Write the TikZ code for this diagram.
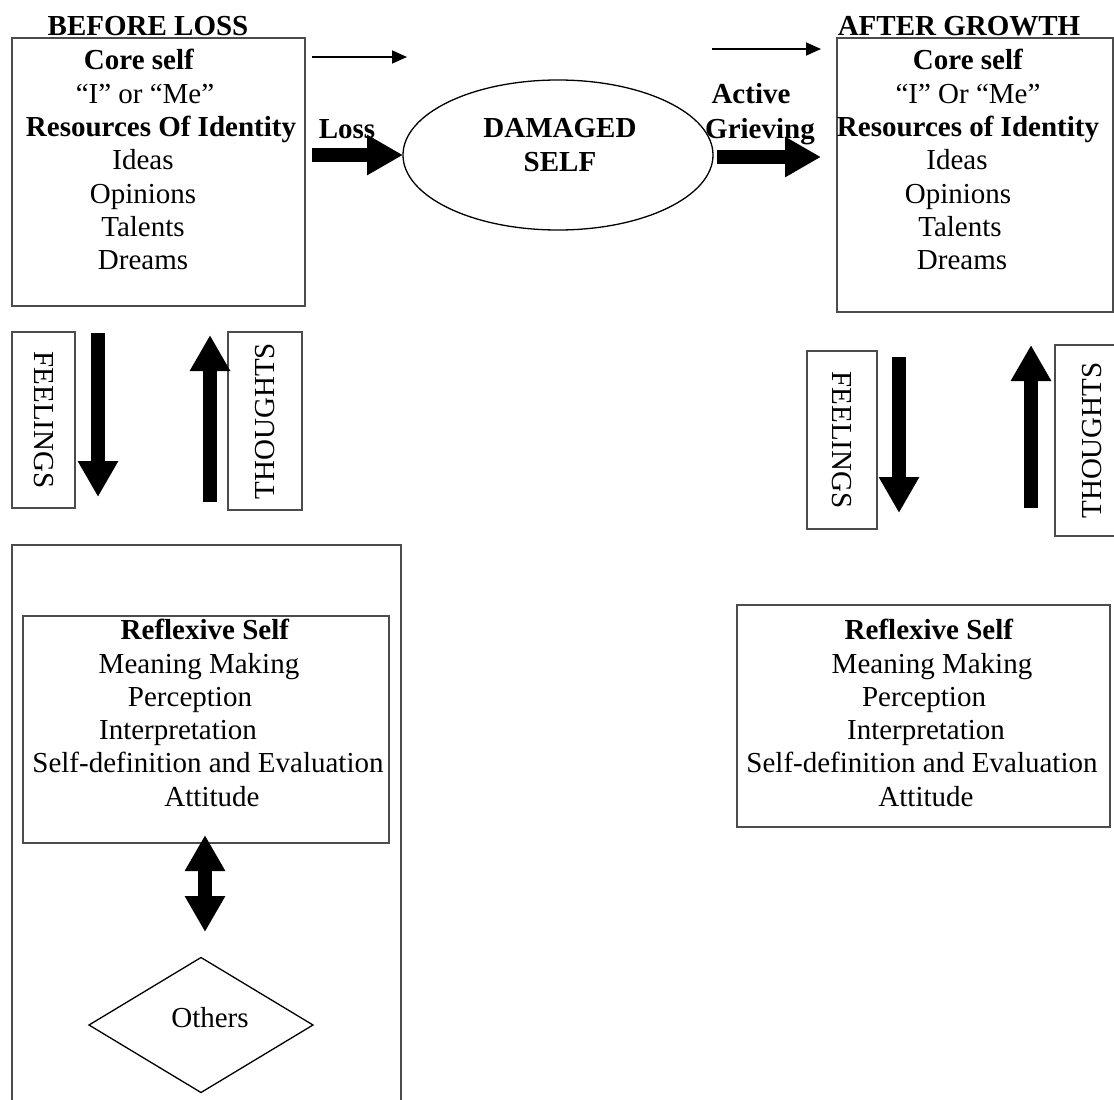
\documentclass[tikz,border=0pt]{standalone}
\usepackage{fontspec}
\setmainfont{Liberation Serif}
\usetikzlibrary{positioning,shapes.geometric,arrows.meta}
\newcommand{\nudge}[2]{\kern#1\relax#2\kern-#1\relax}

\begin{document}
\begin{tikzpicture}[
        x=1pt, y=-1pt,
        every node/.style={font=\fontsize{29}{33.3}\selectfont, inner sep=0pt, outer sep=0pt},
        heading/.style={font=\fontsize{29}{33.3}\selectfont\bfseries},
        box/.style={draw=black!70, line width=1.6pt, rectangle},
        boxtext/.style={align=center, anchor=north},
        fat/.style={line width=14pt, -{Triangle[length=36pt, width=38pt]}},
        fatboth/.style={line width=14pt, {Triangle[length=36pt, width=38pt]}-{Triangle[length=36pt, width=38pt]}},
        slim/.style={line width=1.8pt, -{Triangle[length=15pt, width=13pt]}},
    ]
    \useasboundingbox (0,0) rectangle (1114,1100);
    \clip (0,0) rectangle (1114,1100);

    % core self, before and after
    \node[box, minimum width=293pt, minimum height=268pt] (before) at (158.5,172) {};
    \node[heading, anchor=base] (beforetitle) at (148,35) {BEFORE LOSS};
    \node[boxtext, below=11.5pt of before.north, xshift=-15.5pt] (beforetext)
        {\nudge{-4pt}{\textbf{Core self}}\\\nudge{2pt}{“I” or “Me”}\\\nudge{18pt}{\textbf{Resources Of Identity}}\\Ideas\\Opinions\\Talents\\Dreams};

    \node[box, minimum width=276pt, minimum height=274pt] (after) at (975,175) {};
    \node[heading, anchor=base] (aftertitle) at (959,35) {AFTER GROWTH};
    \node[boxtext, below=11.5pt of after.north, xshift=-9pt] (aftertext)
        {\nudge{2pt}{\textbf{Core self}}\\\nudge{2pt}{“I” Or “Me”}\\\nudge{2pt}{\textbf{Resources of Identity}}\\\nudge{-9pt}{Ideas}\\\nudge{-8pt}{Opinions}\\\nudge{-6pt}{Talents}\\\nudge{-4pt}{Dreams}};

    \node[draw, ellipse, line width=1.3pt, minimum width=310pt, minimum height=150pt] (damaged) at (558,155) {};
    \node[heading, align=center, anchor=north] (damagedtext) at (560,118.5) {DAMAGED\\SELF};

    % arrows between the selves
    \coordinate (lossstart) at (312,155);
    \coordinate (slimAstart) at (312,57);
    \coordinate (slimAend) at (407,57);
    \coordinate (griefstart) at (717,157);
    \coordinate (griefend) at (821,157);
    \coordinate (slimBstart) at (712,49);
    \coordinate (slimBend) at (821,49);
    \draw[fat] (lossstart) -- (damaged.west);
    \draw[fat] (griefstart) -- (griefend);
    \draw[slim] (slimAstart) -- (slimAend);
    \draw[slim] (slimBstart) -- (slimBend);
    \node[heading, anchor=base] (losslabel) at (347,138) {Loss};
    \node[heading, anchor=base] (activelabel) at (751,103) {Active};
    \node[heading, anchor=base] (grieflabel) at (760,138) {Grieving};

    % feelings and thoughts
    \node[box, rotate=-90, minimum width=176pt, minimum height=63pt] (feelA) at (43.5,420) {FEELINGS};
    \node[box, rotate=90, minimum width=178pt, minimum height=74pt] (thoughtA) at (265,421) {THOUGHTS};
    \node[box, rotate=-90, minimum width=178pt, minimum height=70pt] (feelB) at (842,440) {FEELINGS};
    \node[box, rotate=90, minimum width=191pt, minimum height=74pt] (thoughtB) at (1092,440.5) {THOUGHTS};
    \coordinate (feelAtop) at (98,333);
    \coordinate (feelAend) at (98,497);
    \coordinate (thoughtAbot) at (210,502);
    \coordinate (thoughtAend) at (210,335);
    \coordinate (feelBtop) at (899,357);
    \coordinate (feelBend) at (899,513);
    \coordinate (thoughtBbot) at (1031,508);
    \coordinate (thoughtBend) at (1031,345);
    \draw[fat] (feelAtop) -- (feelAend);
    \draw[fat] (thoughtAbot) -- (thoughtAend);
    \draw[fat] (feelBtop) -- (feelBend);
    \draw[fat] (thoughtBbot) -- (thoughtBend);

    % reflexive self
    \node[box, minimum width=389pt, minimum height=575pt] (outer) at (206.5,832.5) {};
    \node[box, minimum width=366pt, minimum height=227pt] (reflexA) at (206,729.5) {};
    \node[boxtext, below=3.3pt of reflexA.north, xshift=2pt] (reflexAtext)
        {\nudge{-3pt}{\textbf{Reflexive Self}}\\\nudge{-9pt}{Meaning Making}\\\nudge{-18pt}{Perception}\\\nudge{-30pt}{Interpretation}\\Self-definition and Evaluation\\\nudge{4pt}{Attitude}};
    \node[box, minimum width=373pt, minimum height=222pt] (reflexB) at (923.5,716) {};
    \node[boxtext, below=14.3pt of reflexB.north, xshift=2.5pt] (reflexBtext)
        {\nudge{3pt}{\textbf{Reflexive Self}}\\\nudge{6pt}{Meaning Making}\\\nudge{-2pt}{Perception}\\Interpretation\\\nudge{-4pt}{Self-definition and Evaluation}\\Attitude};

    \node[draw, diamond, line width=1.3pt, minimum width=224pt, minimum height=135pt] (others) at (201,1025) {};
    \node[anchor=base] (otherstext) at (210,1027) {Others};
    \coordinate (mutualtop) at (205,835);
    \coordinate (mutualbot) at (205,932);
    \draw[fatboth] (mutualtop) -- (mutualbot);
\end{tikzpicture}
\end{document}
